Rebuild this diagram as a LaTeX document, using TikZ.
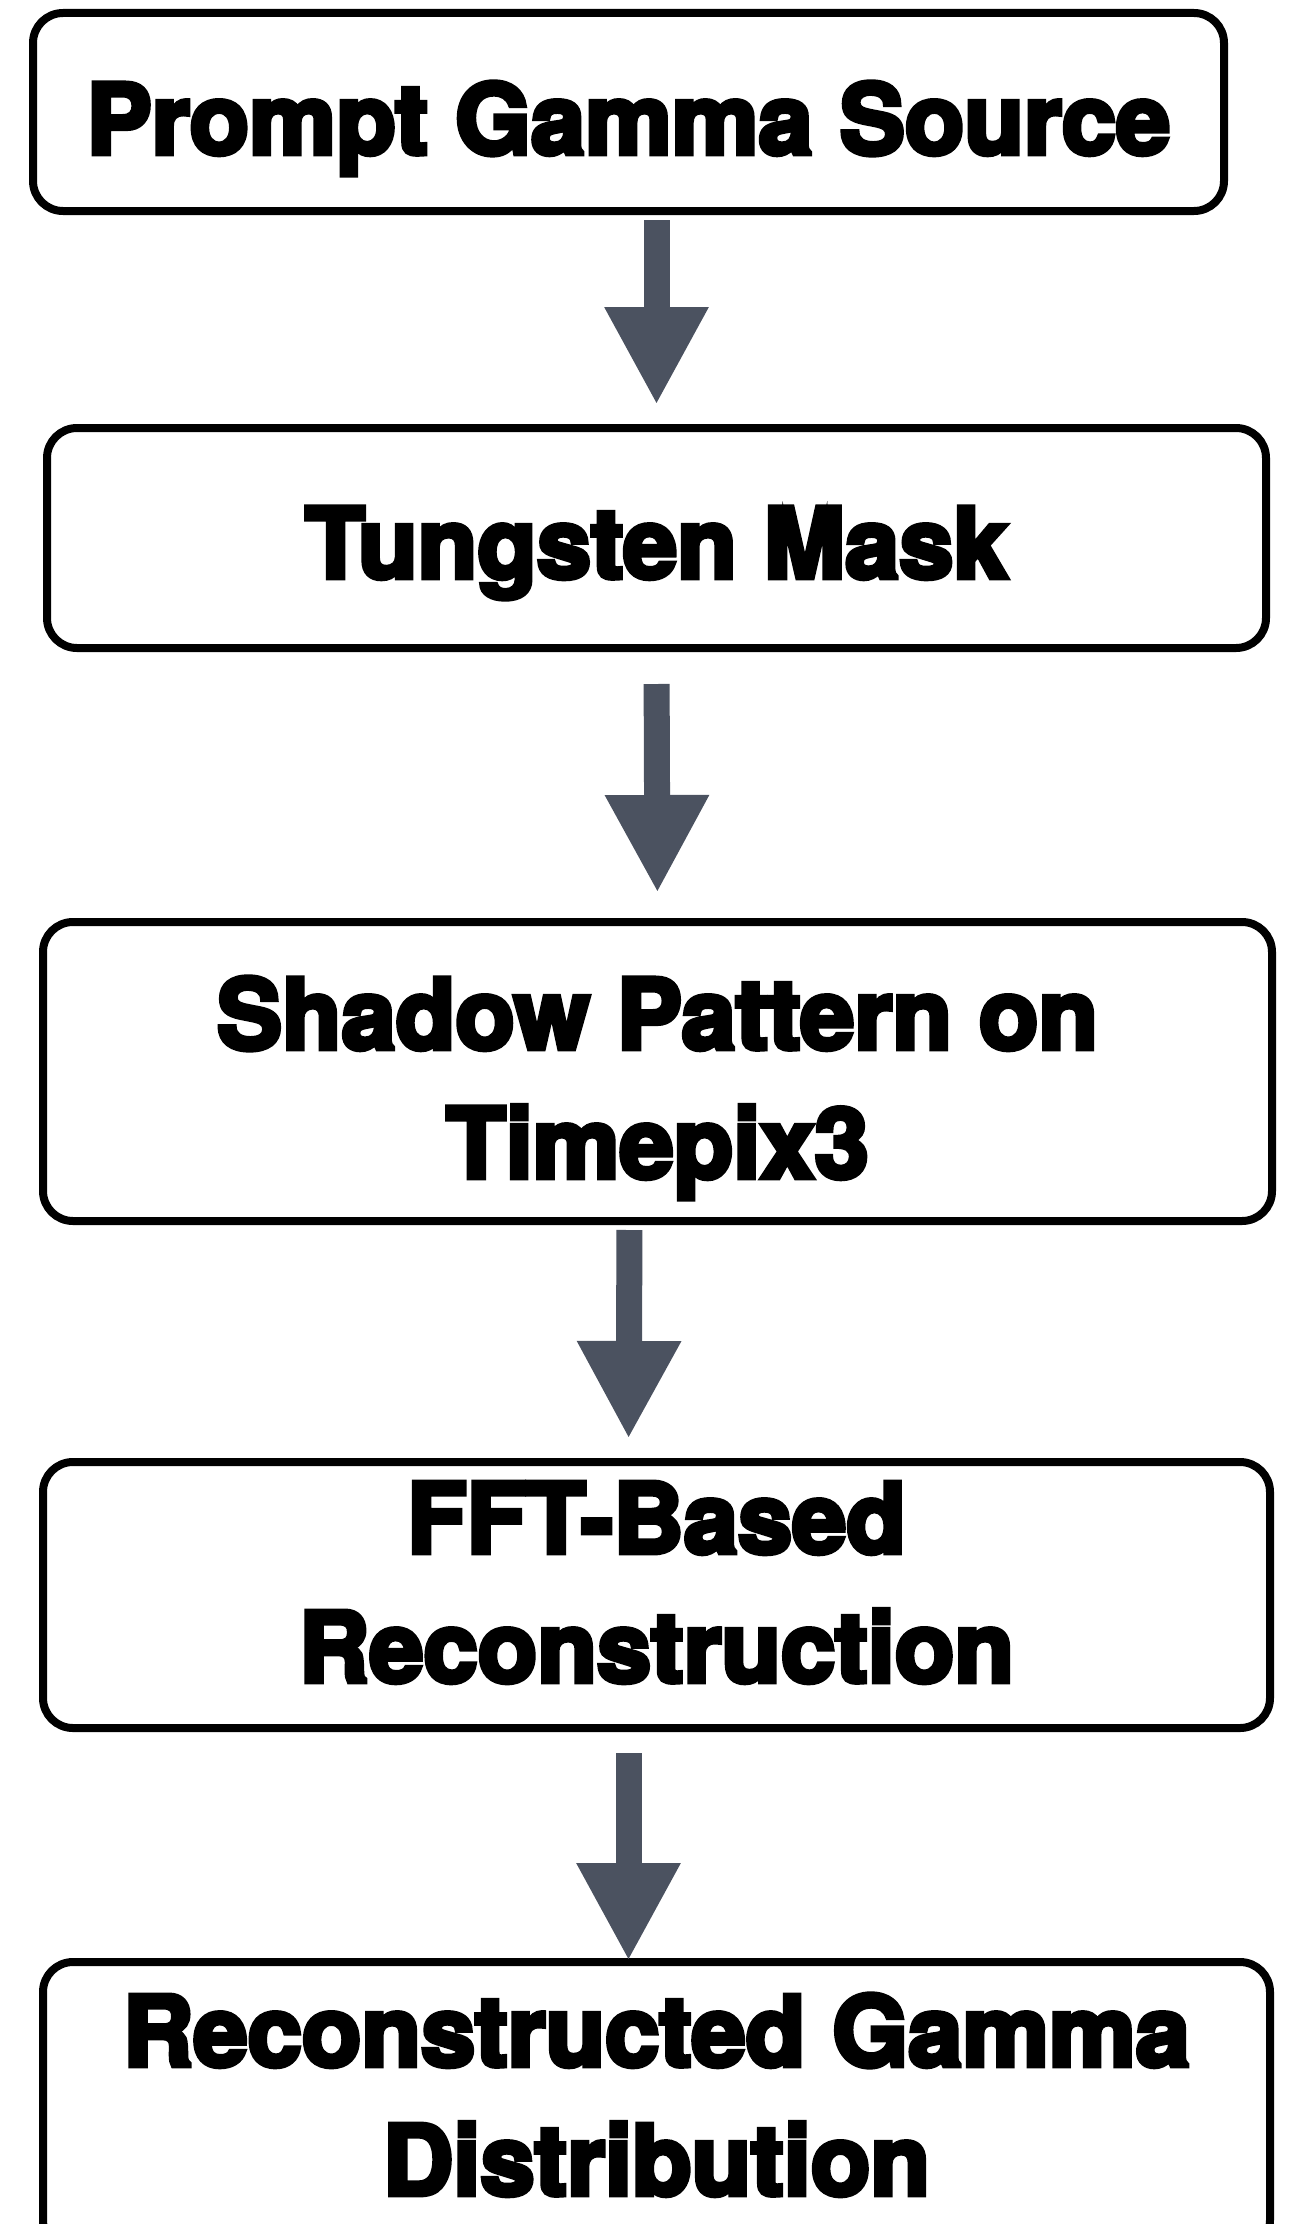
\documentclass[tikz,border=0pt]{standalone}
\usepackage{fontspec}
\newfontfamily\heavy{TeX Gyre Heros}[FakeBold=5]
\usetikzlibrary{arrows.meta,calc}
\definecolor{arrowgray}{HTML}{4B5260}
\begin{document}
\begin{tikzpicture}[x=1pt,y=-1pt,
  box/.style={draw=black, fill=white, line width=8pt, rounded corners=30pt,
    inner sep=0pt, align=center, font=\heavy\bfseries\fontsize{97.5}{129}\selectfont},
  arr/.style={draw=arrowgray, line width=26pt,
    -{Triangle[width=97pt,length=98pt]}}]
\useasboundingbox (0,0) rectangle (1291,2224);
\fill[white] (0,0) rectangle (1291,2224);
\node[box, minimum width=1191pt, minimum height=198pt, text height=84pt, text depth=0pt] (b1) at (628.5,112) {Prompt Gamma Source};
\node[box, minimum width=1219pt, minimum height=220pt, text height=80pt, text depth=0pt] (b2) at (656.5,538) {Tungsten Mask};
\node[box, minimum width=1229pt, minimum height=299pt, text height=213pt, text depth=0pt] (b3) at (657.5,1071.5) {Shadow Pattern on\\Timepix3};
\node[box, minimum width=1227pt, minimum height=266pt, text height=174pt, text depth=0pt] (b4) at (656.5,1595) {FFT-Based\\Reconstruction};
\node[box, minimum width=1227pt, minimum height=288pt, text height=178pt, text depth=0pt] (b5) at (656.5,2106) {Reconstructed Gamma\\Distribution};
\draw[arr, shorten <=5pt, shorten >=19pt] (b1.south -| b2.north) -- (b2.north);
\draw[arr, shorten <=32pt, shorten >=25pt] (b2.south) -- (b3.north);
\draw[arr, shorten <=5pt, shorten >=19pt] ([xshift=-28pt]b3.south) -- ([xshift=-28pt]b4.north);
\draw[arr, shorten <=21pt, shorten >=-3pt] ([xshift=-28pt]b4.south) -- ([xshift=-28pt]b5.north);
\end{tikzpicture}
\end{document}
